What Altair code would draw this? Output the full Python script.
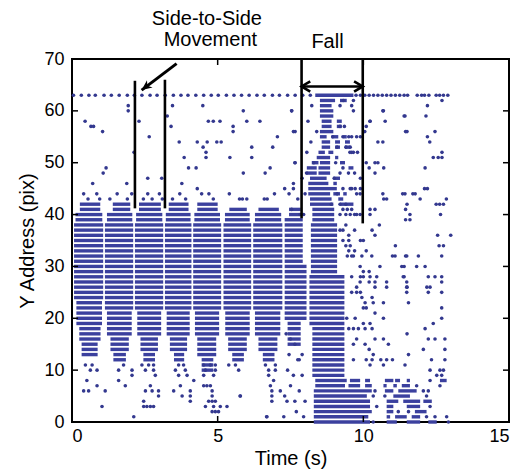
import altair as alt
import pandas as pd

X_TICKS = [0, 5, 10, 15]
Y_TICKS = [0, 10, 20, 30, 40, 50, 60, 70]

# dense streak bands of each side-to-side lobe: (lowest row, highest row, start s, end s)
LOBE1 = [(13, 15, 0.33, 0.88), (16, 18, 0.25, 0.98), (19, 23, 0.15, 1.03), (24, 38, 0.07, 1.07), (39, 40, 0.12, 1.04), (41, 42, 0.27, 0.97)]
LOBE2 = [(12, 13, 1.42, 1.85), (14, 16, 1.32, 1.95), (17, 21, 1.20, 2.05), (22, 38, 1.13, 2.10), (39, 40, 1.20, 2.07), (41, 42, 1.40, 2.00)]
LOBE3 = [(12, 13, 2.45, 2.85), (14, 16, 2.35, 2.95), (17, 21, 2.24, 3.06), (22, 38, 2.16, 3.13), (39, 40, 2.20, 3.10), (41, 42, 2.30, 3.05)]
LOBE4 = [(12, 13, 3.50, 3.85), (14, 16, 3.36, 3.95), (17, 21, 3.25, 4.04), (22, 38, 3.19, 4.10), (39, 40, 3.22, 4.07), (41, 42, 3.32, 4.00)]
LOBE5 = [(10, 12, 4.45, 4.85), (13, 16, 4.30, 4.95), (17, 21, 4.22, 5.05), (22, 38, 4.16, 5.12), (39, 40, 4.20, 5.08), (41, 42, 4.30, 5.00)]
LOBE6 = [(12, 13, 5.50, 5.90), (14, 16, 5.36, 6.00), (17, 21, 5.26, 6.10), (22, 38, 5.20, 6.15), (39, 40, 5.25, 6.10), (41, 41, 5.40, 6.00)]
LOBE7 = [(12, 13, 6.55, 6.95), (14, 16, 6.40, 7.05), (17, 21, 6.28, 7.15), (22, 38, 6.22, 7.22), (39, 40, 6.28, 7.18), (41, 41, 6.40, 7.10)]
LOBE8 = [(15, 19, 7.40, 7.85), (20, 30, 7.30, 8.05), (31, 39, 7.30, 7.92), (40, 41, 7.45, 7.85)]

# dense core of the fall, lower part and top row
FALL = [(9, 18, 8.25, 9.35), (19, 28, 8.15, 9.35), (29, 38, 8.20, 9.10), (39, 41, 8.25, 9.00),
        (63, 63, 8.35, 9.66)]

# upper part of the fall, broken streaks: (row, start s, end s)
FALL_UPPER_SEGS = [
    (62, 8.51, 9.03), (62, 9.20, 9.43),
    (61, 8.51, 8.91),
    (60, 8.51, 8.97), (59, 8.51, 8.97),
    (58, 8.57, 8.91), (58, 9.09, 9.26), (57, 8.57, 8.91), (57, 9.09, 9.26),
    (56, 8.51, 8.97),
    (55, 8.51, 8.74), (55, 8.91, 9.14), (55, 9.31, 9.43),
    (54, 8.57, 8.86), (54, 9.03, 9.20), (54, 9.37, 9.54),
    (53, 8.57, 8.86), (53, 9.03, 9.20), (53, 9.37, 9.54),
    (52, 8.46, 8.68), (52, 8.80, 8.97),
    (51, 8.40, 8.86), (51, 9.03, 9.14),
    (50, 8.23, 8.46), (50, 8.51, 8.86), (50, 9.20, 9.37),
    (49, 8.06, 8.40), (49, 8.46, 8.86), (49, 9.49, 9.66),
    (48, 8.06, 8.40), (48, 8.46, 8.86),
    (47, 8.17, 8.74), (47, 8.97, 9.20),
    (46, 8.11, 8.80), (46, 8.97, 9.09),
    (45, 8.11, 9.09),
    (44, 8.11, 8.86), (44, 8.97, 9.20), (44, 9.31, 9.43),
    (43, 8.17, 8.91), (43, 9.14, 9.31),
    (42, 8.17, 8.97), (42, 9.20, 9.66),
]

# bottom rows after the fall: (row, start s, end s)
BOTTOM_SEGS = [
    (8, 8.35, 9.43), (8, 9.54, 9.89), (8, 10.06, 10.23), (8, 10.74, 11.03), (8, 11.09, 11.26), (8, 11.49, 11.60), (8, 12.63, 12.86),
    (7, 8.35, 9.37), (7, 9.49, 9.89), (7, 10.06, 10.29), (7, 10.69, 10.80), (7, 11.03, 11.15), (7, 11.32, 11.60),
    (6, 8.30, 10.29), (6, 10.74, 11.03), (6, 11.20, 11.83),
    (5, 8.30, 10.12), (5, 11.03, 11.60),
    (4, 8.30, 10.23), (4, 10.80, 11.20), (4, 11.37, 11.95), (4, 12.06, 12.35),
    (3, 8.30, 10.23), (3, 10.80, 11.03), (3, 11.49, 11.95),
    (2, 8.30, 10.29), (2, 10.80, 11.03), (2, 11.77, 12.17),
    (1, 8.30, 10.17), (1, 10.80, 10.92), (1, 11.09, 11.49), (1, 11.66, 11.95),
    (0, 8.30, 10.23), (0, 10.80, 11.15), (0, 11.49, 11.95), (0, 12.23, 12.52),
]

# dotted row at the top address
ROW63_T = [0.05, 0.32, 0.58, 0.80, 1.10, 1.35, 1.62, 1.90, 2.14, 2.40, 2.68, 2.92, 3.20, 3.48, 3.74, 3.98,
           4.25, 4.52, 4.78, 5.02, 5.30, 5.56, 5.82, 6.08, 6.35, 6.60, 6.88, 7.12, 7.40, 7.66, 7.92, 8.18,
           9.75, 9.90, 10.05, 10.20, 10.35, 10.50, 10.65, 10.80, 10.95, 11.10, 11.25, 11.40, 11.52, 11.85,
           12.00, 12.10, 12.25, 12.50, 12.62, 12.75, 12.90]

SPARSE_UPPER = [(0.45, 58), (0.65, 57), (0.74, 57), (1.05, 56), (1.93, 61), (1.93, 60), (2.30, 58), (2.65, 55),
                (2.13, 52), (3.27, 59), (3.45, 61), (3.40, 57), (3.68, 54), (3.85, 51), (4.00, 49), (4.26, 49),
                (3.77, 46), (4.49, 61), (4.68, 58), (4.85, 58), (5.08, 58), (4.30, 54), (4.64, 54), (4.97, 54),
                (5.12, 54), (4.50, 53), (4.60, 52), (4.60, 51), (1.07, 48), (1.17, 49), (0.71, 46), (1.88, 46),
                (2.60, 47), (3.08, 47), (5.88, 60), (7.54, 60), (6.00, 58), (6.45, 58), (5.53, 57), (5.53, 56),
                (7.66, 56), (7.05, 55), (6.17, 53), (6.89, 53), (5.42, 51), (6.17, 51), (6.80, 49), (5.88, 48),
                (6.63, 48), (7.66, 50), (7.60, 46),
                (0.40, 44), (0.55, 43), (0.85, 44), (0.95, 43), (1.30, 43), (1.55, 44), (1.90, 43), (2.05, 44),
                (2.45, 43), (2.60, 44), (2.75, 43), (3.00, 44), (3.10, 43), (3.45, 43), (3.70, 44), (3.90, 43),
                (4.30, 45), (4.45, 44), (4.70, 44), (4.85, 43), (5.40, 44), (5.75, 43), (5.85, 43), (6.00, 43),
                (6.60, 43), (6.70, 43), (6.95, 44), (7.30, 45), (7.45, 44), (7.75, 43)]

SPARSE_FALL = [(7.54, 60), (8.23, 61), (7.60, 56), (8.40, 56), (7.65, 50), (8.06, 52), (8.30, 50), (7.60, 45),
               (7.90, 47), (8.05, 48), (7.54, 41), (9.31, 62), (9.66, 62), (9.66, 60), (10.23, 58), (10.69, 60),
               (11.40, 59), (9.30, 55), (9.50, 55), (9.60, 55), (10.05, 56), (9.55, 53), (9.80, 52), (10.10, 50),
               (10.40, 50), (10.50, 54), (11.45, 56), (9.30, 49), (9.70, 48), (9.90, 47), (9.90, 45), (10.70, 43),
               (11.35, 44), (11.70, 44), (9.30, 45), (9.55, 45), (9.30, 41), (9.45, 41), (9.60, 41), (10.23, 41),
               (11.45, 41), (11.45, 39), (9.70, 37), (10.30, 37), (9.50, 35), (9.30, 35), (9.90, 35), (10.00, 35),
               (10.10, 33), (11.00, 32), (11.45, 32), (9.50, 33), (9.70, 33), (9.45, 32), (9.60, 32), (10.00, 29),
               (10.20, 29), (9.60, 28), (9.90, 28), (10.20, 27), (10.80, 27), (11.40, 30), (11.40, 28), (9.60, 25),
               (9.90, 25), (9.95, 24), (10.30, 24), (10.10, 22), (10.40, 21), (11.50, 26), (9.50, 18), (10.30, 18),
               (10.20, 14), (10.60, 12), (10.80, 12), (11.00, 12), (10.10, 12), (10.30, 12), (11.50, 17), (7.90, 13),
               (7.80, 12), (9.20, 61), (9.60, 61), (9.20, 57), (9.35, 57), (9.40, 53), (9.60, 52),
               (8.95, 55), (9.10, 53), (9.05, 50), (9.20, 48), (9.00, 47), (9.10, 44), (8.90, 42), (9.20, 42),
               (9.40, 42), (9.55, 40), (9.70, 40), (9.40, 38), (9.50, 36), (8.10, 58), (8.20, 54), (8.00, 44),
               (9.77, 55), (9.90, 55), (9.54, 52), (9.66, 52), (9.49, 48), (9.60, 45), (9.72, 45), (9.77, 44),
               (9.89, 44), (7.83, 40), (7.95, 40), (9.20, 40), (9.40, 40), (9.77, 40), (9.89, 40)]

SPARSE_RIGHT = [(12.70, 62), (12.20, 61), (10.67, 60), (11.43, 59), (12.15, 59), (10.23, 58), (10.75, 58), (10.10, 57),
                (11.50, 56), (12.46, 56), (12.20, 55), (10.67, 54), (12.28, 54), (12.70, 52), (12.57, 51), (12.40, 51),
                (12.70, 51), (10.50, 50), (10.20, 49), (10.70, 49), (10.40, 48), (12.12, 49), (12.10, 45), (12.20, 45),
                (10.67, 44), (10.80, 43), (11.43, 44), (11.78, 44), (11.95, 43), (12.50, 42), (12.62, 42), (12.75, 42),
                (12.85, 43), (11.50, 42), (10.40, 41), (10.23, 40), (11.60, 40), (11.60, 39), (12.65, 40), (10.55, 38),
                (9.20, 37), (9.30, 37), (10.40, 36), (12.55, 36), (13.00, 36), (9.40, 34), (9.55, 34), (11.10, 34),
                (12.60, 34), (12.75, 34),
                (9.66, 32), (9.95, 32), (10.29, 32), (11.09, 32), (11.49, 32), (11.89, 32), (12.69, 32),
                (9.89, 30), (10.57, 30), (11.32, 30), (11.83, 30), (12.12, 30),
                (10.00, 28), (10.23, 28), (10.46, 28), (11.37, 28), (12.23, 28), (12.46, 28), (12.69, 28),
                (9.89, 27), (10.40, 27), (11.49, 27), (12.69, 27),
                (9.77, 26), (10.40, 26), (10.80, 26), (11.49, 26), (12.18, 26), (12.29, 26),
                (9.77, 25), (11.49, 25), (12.23, 25), (12.69, 25),
                (10.06, 23), (10.34, 23), (10.69, 23), (11.55, 23), (10.00, 22), (12.69, 22),
                (9.43, 20), (9.72, 20), (10.69, 20), (12.69, 20), (10.00, 19), (10.23, 19), (12.40, 19),
                (9.66, 18), (9.83, 18), (10.06, 18), (12.12, 18),
                (9.77, 16), (10.40, 16), (10.69, 16), (12.23, 16), (12.46, 16), (12.80, 16),
                (9.66, 15), (10.06, 15), (10.86, 15), (12.06, 14), (12.80, 14), (10.34, 13), (11.55, 13),
                (9.66, 12), (12.34, 12), (12.80, 12), (10.23, 11), (10.69, 11), (11.43, 11),
                (12.29, 10), (12.63, 10), (12.75, 10), (12.52, 9), (12.69, 9),
                (12.29, 8), (11.83, 7), (12.63, 7), (10.40, 6), (12.06, 6), (12.23, 6), (10.34, 5), (10.74, 5),
                (12.17, 5), (10.46, 3), (12.29, 3), (11.20, 2), (11.55, 2), (12.17, 1), (12.46, 1), (12.86, 1),
                (10.34, 0), (12.92, 0)]

SPARSE_LOWER = [(0.46, 11), (0.69, 11), (1.77, 11), (2.40, 11), (2.63, 11), (2.80, 11), (3.66, 11), (3.83, 11),
                (4.52, 11), (4.75, 11), (4.92, 11), (5.38, 11), (5.61, 11), (6.64, 11), (6.98, 11),
                (0.63, 10), (0.86, 10), (1.60, 10), (2.06, 10), (2.52, 10), (2.80, 10), (3.55, 10), (3.89, 10),
                (4.58, 10), (4.92, 10), (5.72, 10), (6.75, 10), (6.98, 10),
                (2.06, 9), (2.86, 9), (3.66, 9), (3.95, 9), (4.52, 9), (4.86, 9), (6.75, 9),
                (0.51, 8), (1.60, 8), (4.18, 8), (6.92, 8),
                (0.86, 7), (1.83, 7), (2.69, 7), (3.72, 7), (4.52, 7), (4.63, 7), (4.75, 7), (6.81, 7),
                (0.40, 6), (0.57, 6), (1.14, 6), (2.52, 6), (2.75, 6), (2.97, 6), (3.49, 6), (4.06, 6), (4.81, 6),
                (6.86, 6), (7.15, 6),
                (2.97, 5), (3.78, 5), (4.06, 5), (4.81, 5), (5.78, 5), (6.86, 5),
                (2.46, 4), (4.06, 4), (4.69, 4), (4.81, 4), (4.92, 4), (6.86, 4), (7.38, 4),
                (1.03, 3), (2.46, 3), (2.57, 3), (2.69, 3), (2.80, 3), (4.58, 3), (4.86, 3), (5.09, 3), (5.32, 3),
                (4.81, 2), (4.92, 2), (5.03, 2), (2.12, 1), (6.69, 1), (7.27, 1), (6.68, 1),
                (7.35, 17), (7.50, 16), (7.65, 15), (7.45, 13), (7.75, 12), (7.40, 10), (7.60, 9), (7.90, 9),
                (7.50, 7), (7.80, 6), (7.30, 5), (7.65, 4), (8.00, 4), (7.70, 2), (7.95, 1), (5.77, 5)]

# annotation geometry (data units)
VLINE_T = [2.16, 3.19, 7.88, 9.98]
VLINE_Y0 = [41.2, 41.2, 39.3, 38.3]
VLINE_Y1 = [65.8, 66.0, 70.0, 70.0]
ARROW_T = [3.59, 2.39]
ARROW_Y = [69.1, 64.0]
FALL_ARROW_T = [7.88, 9.98]
FALL_ARROW_Y = 64.7
ANNOT_TEXT = ["Side-to-Side", "Movement", "Fall"]
ANNOT_T = [4.63, 4.75, 8.77]
ANNOT_Y = [77.8, 73.6, 73.2]

W, H = 437, 363
BLUE = "#3b409e"
DOT = "#33388f"
FONT = "Liberation Sans"

seg_rows = []
for bands in [LOBE1, LOBE2, LOBE3, LOBE4, LOBE5, LOBE6, LOBE7, LOBE8, FALL]:
    for lo, hi, t0, t1 in bands:
        for yy in range(lo, hi + 1):
            seg_rows.append({"t0": t0, "t1": t1, "y": yy})
for yy, t0, t1 in FALL_UPPER_SEGS + BOTTOM_SEGS:
    seg_rows.append({"t0": t0, "t1": t1, "y": yy})
seg_df = pd.DataFrame(seg_rows)

pts = [{"t": t, "y": 63} for t in ROW63_T]
for lst in [SPARSE_UPPER, SPARSE_FALL, SPARSE_RIGHT, SPARSE_LOWER]:
    pts += [{"t": t, "y": yy} for t, yy in lst]
pt_df = pd.DataFrame(pts)

XS = alt.Scale(domain=[0, 15], nice=False, zero=False)
YS = alt.Scale(domain=[0, 70], nice=False, zero=False)
XA = alt.Axis(values=X_TICKS, domain=False, ticks=False, grid=False, labelPadding=5, titlePadding=3)
YA = alt.Axis(values=Y_TICKS, domain=False, ticks=False, grid=False, labelPadding=8, titlePadding=6)


def X(f):
    return alt.X(f"{f}:Q", scale=XS, axis=XA, title="Time (s)")


def Y(f):
    return alt.Y(f"{f}:Q", scale=YS, axis=YA, title="Y Address (pix)")


streaks = alt.Chart(seg_df).mark_rule(strokeWidth=3.4, color=BLUE).encode(x=X("t0"), x2="t1", y=Y("y"))
dots = alt.Chart(pt_df).mark_circle(size=13, color=DOT, opacity=1).encode(x=X("t"), y=Y("y"))

xt = pd.DataFrame({"v": X_TICKS[1:-1]})
yt = pd.DataFrame({"v": Y_TICKS[1:-1]})
tick_bottom = alt.Chart(xt).mark_rule(color="black", strokeWidth=1.5).encode(x=X("v"), y=alt.value(H), y2=alt.value(H - 6))
tick_top = alt.Chart(xt).mark_rule(color="black", strokeWidth=1.5).encode(x=X("v"), y=alt.value(0), y2=alt.value(6))
tick_left = alt.Chart(yt).mark_rule(color="black", strokeWidth=1.5).encode(y=Y("v"), x=alt.value(0), x2=alt.value(6))
tick_right = alt.Chart(yt).mark_rule(color="black", strokeWidth=1.5).encode(y=Y("v"), x=alt.value(W), x2=alt.value(W - 6))

vl_df = pd.DataFrame({"t": VLINE_T, "y0": VLINE_Y0, "y1": VLINE_Y1})
vlines = alt.Chart(vl_df).mark_rule(color="black", strokeWidth=2.6).encode(x=X("t"), y=Y("y0"), y2="y1")

arr_df = pd.DataFrame({"ta": [ARROW_T[0]], "tb": [ARROW_T[1]], "ya": [ARROW_Y[0]], "yb": [ARROW_Y[1]]})
arrow_line = alt.Chart(arr_df).mark_rule(color="black", strokeWidth=3).encode(x=X("ta"), x2="tb", y=Y("ya"), y2="yb")
head_df = pd.DataFrame({"t": [ARROW_T[1]], "y": [ARROW_Y[1]]})
arrow_head = alt.Chart(head_df).mark_point(
    shape="M0,0L-1,-0.45L-0.7,0L-1,0.45Z", filled=True, color="black", opacity=1, size=420, angle=142.7
).encode(x=X("t"), y=Y("y"))

fa_df = pd.DataFrame({"ta": [FALL_ARROW_T[0]], "tb": [FALL_ARROW_T[1]], "y": [FALL_ARROW_Y]})
fall_line = alt.Chart(fa_df).mark_rule(color="black", strokeWidth=2.6).encode(x=X("ta"), x2="tb", y=Y("y"))
fh_r = pd.DataFrame({"t": [FALL_ARROW_T[1]], "y": [FALL_ARROW_Y]})
fh_l = pd.DataFrame({"t": [FALL_ARROW_T[0]], "y": [FALL_ARROW_Y]})
V_SHAPE = "M-1,-0.6L0,0L-1,0.6"
fall_head_r = alt.Chart(fh_r).mark_point(shape=V_SHAPE, filled=False, color="black", strokeWidth=2.6,
                                         opacity=1, size=300, angle=0).encode(x=X("t"), y=Y("y"))
fall_head_l = alt.Chart(fh_l).mark_point(shape=V_SHAPE, filled=False, color="black", strokeWidth=2.6,
                                         opacity=1, size=300, angle=180).encode(x=X("t"), y=Y("y"))

txt_df = pd.DataFrame({"label": ANNOT_TEXT, "t": ANNOT_T, "y": ANNOT_Y})
texts = alt.Chart(txt_df).mark_text(font=FONT, fontSize=20, color="black", align="center", baseline="middle").encode(
    x=X("t"), y=Y("y"), text="label:N")

chart = alt.layer(
    streaks, dots, tick_bottom, tick_top, tick_left, tick_right,
    vlines, arrow_line, arrow_head, fall_line, fall_head_r, fall_head_l, texts
).properties(
    width=W, height=H,
    padding={"left": 64, "top": 51, "right": 15, "bottom": 50},
    autosize=alt.AutoSizeParams(type="none"),
).configure_view(
    stroke="black", strokeWidth=2
).configure_axis(
    labelFont=FONT, titleFont=FONT, labelFontSize=18, titleFontSize=20,
    titleFontWeight="normal", labelColor="black", titleColor="black"
)

chart.save("out.html", embed_options={"renderer": "svg", "actions": False})
